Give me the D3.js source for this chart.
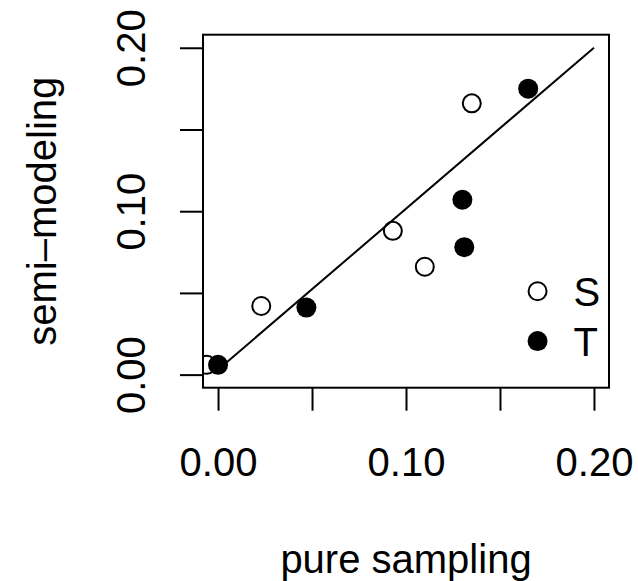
<!DOCTYPE html>
<html lang="en">
<head>
<meta charset="UTF-8"/>
<title>semi-modeling vs pure sampling</title>
<script src="https://d3js.org/d3.v7.min.js" charset="utf-8"></script>
<style type="text/css">
    body { margin: 0; background: #fff; }
    text { font-family: "Liberation Sans", Arial, sans-serif; font-size: 40px; fill: #000; }
    .axis line { stroke: #000; stroke-width: 2px; }
    .axis path { display: none; }
</style>
</head>
<body>
<div id="chart"></div>
<script type="text/javascript">
// data
var sX = [-0.006, 0.023, 0.093, 0.110, 0.135];
var sY = [0.006, 0.042, 0.088, 0.066, 0.166];
var tX = [0.000, 0.047, 0.130, 0.131, 0.165];
var tY = [0.006, 0.041, 0.107, 0.078, 0.175];
var lineX = [0, 0.2];
var lineY = [0.003, 0.2];
var ticks = [0, 0.05, 0.10, 0.15, 0.20];
var tickLabels = ["0.00", "", "0.10", "", "0.20"];
var legendNames = ["S", "T"];
var legendX = 0.170;
var legendY = [0.051, 0.0205];

var W = 638, H = 581;
var margin = {top: 34.7, right: 29, bottom: 193.3, left: 203},
    width = W - margin.left - margin.right,
    height = H - margin.top - margin.bottom;

var svg = d3.select("#chart").append("svg")
    .attr("width", W)
    .attr("height", H);

var g = svg.append("g")
    .attr("transform", "translate(" + margin.left + "," + margin.top + ")");

var x = d3.scaleLinear().domain([-0.008, 0.208]).range([0, width]);
var y = d3.scaleLinear().domain([-0.008, 0.208]).range([height, 0]);

g.append("clipPath").attr("id", "clip")
    .append("rect").attr("width", width).attr("height", height);

// x axis
var xa = g.append("g").attr("class", "axis")
    .attr("transform", "translate(0," + height + ")")
    .call(d3.axisBottom(x).tickValues(ticks).tickSize(23)
        .tickFormat(function (d, i) { return tickLabels[i]; }));
xa.selectAll("text").attr("y", 88.3).attr("dy", 0);

// y axis
var ya = g.append("g").attr("class", "axis")
    .call(d3.axisLeft(y).tickValues(ticks).tickSize(23)
        .tickFormat(function (d, i) { return tickLabels[i]; }));
ya.selectAll("text")
    .attr("transform", "rotate(-90)")
    .attr("x", 0).attr("y", -58).attr("dy", 0)
    .attr("text-anchor", "middle");

// box
g.append("rect")
    .attr("width", width).attr("height", height)
    .attr("fill", "none").attr("stroke", "#000").attr("stroke-width", 2);

// line
var lineData = lineX.map(function (d, i) { return [d, lineY[i]]; });
g.append("path")
    .datum(lineData)
    .attr("clip-path", "url(#clip)")
    .attr("fill", "none").attr("stroke", "#000").attr("stroke-width", 2)
    .attr("d", d3.line().x(function (d) { return x(d[0]); }).y(function (d) { return y(d[1]); }));

var pts = g.append("g").attr("clip-path", "url(#clip)");

// S: open circles
pts.selectAll(".s").data(sX).enter().append("circle")
    .attr("class", "s")
    .attr("cx", function (d) { return x(d); })
    .attr("cy", function (d, i) { return y(sY[i]); })
    .attr("r", 9)
    .attr("fill", "none").attr("stroke", "#000").attr("stroke-width", 2);

// T: filled circles
pts.selectAll(".t").data(tX).enter().append("circle")
    .attr("class", "t")
    .attr("cx", function (d) { return x(d); })
    .attr("cy", function (d, i) { return y(tY[i]); })
    .attr("r", 10)
    .attr("fill", "#000");

// legend
var leg = g.append("g");
leg.selectAll("circle").data(legendNames).enter().append("circle")
    .attr("cx", x(legendX))
    .attr("cy", function (d, i) { return y(legendY[i]); })
    .attr("r", function (d, i) { return i === 0 ? 9 : 10; })
    .attr("fill", function (d, i) { return i === 0 ? "none" : "#000"; })
    .attr("stroke", function (d, i) { return i === 0 ? "#000" : "none"; })
    .attr("stroke-width", 2);
leg.selectAll("text").data(legendNames).enter().append("text")
    .attr("x", x(legendX) + 36)
    .attr("y", function (d, i) { return y(legendY[i]) + 14.5; })
    .text(function (d) { return d; });

// axis titles
svg.append("text")
    .attr("x", margin.left + width / 2)
    .attr("y", 573)
    .attr("text-anchor", "middle")
    .text("pure sampling");

svg.append("text")
    .attr("transform", "translate(56," + (margin.top + height / 2) + ") rotate(-90)")
    .attr("text-anchor", "middle")
    .text("semi\u2013modeling");
</script>
</body>
</html>
